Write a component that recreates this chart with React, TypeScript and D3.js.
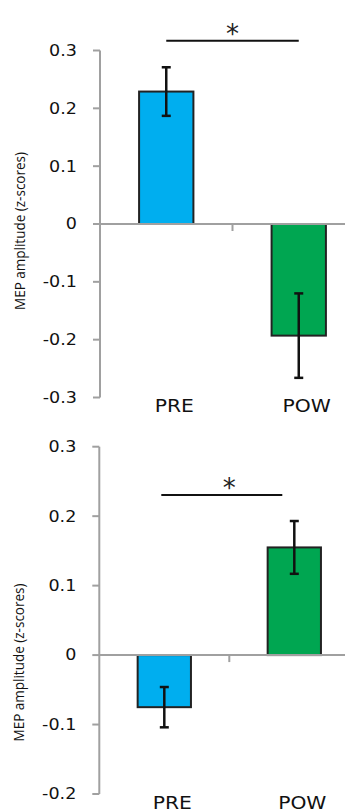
import React from "react";
import * as d3 from "d3";

// data
const categories = ["PRE", "POW"];
const barColors = ["#00AEEF", "#00A651"];

const topMeans = [0.229, -0.193];
const topErrors = [0.042, 0.073];
const topTicks = [0.3, 0.2, 0.1, 0, -0.1, -0.2, -0.3];

const bottomMeans = [-0.075, 0.155];
const bottomErrors = [0.029, 0.038];
const bottomTicks = [0.3, 0.2, 0.1, 0, -0.1, -0.2];

const yTitle = "MEP amplitude (z-scores)";
const sigMark = "*";

const axisGrey = "#a0a0a0";
const numFont = "'DejaVu Sans', Verdana, sans-serif";

function fmt(v: number) {
  return v === 0 ? "0" : v.toFixed(1);
}

type PanelProps = {
  means: number[];
  errors: number[];
  ticks: number[];
  yRange: [number, number];
  xRange: [number, number];
  titleY: number;
  labelY: number;
  sigY: number;
  sigOffsets: [number, number];
};

function Panel(p: PanelProps) {
  const y = d3
    .scaleLinear()
    .domain([d3.min(p.ticks)!, d3.max(p.ticks)!])
    .range(p.yRange);
  const x = d3.scaleBand<string>().domain(categories).range(p.xRange).padding(0);
  const barW = x.bandwidth() * 0.41;
  const axisX = p.xRange[0];
  const y0 = y(0);
  const mid = axisX + x.step();
  const center = (c: string) => x(c)! + x.bandwidth() / 2;

  return (
    <g>
      {/* bars */}
      {categories.map((c, i) => {
        const v = p.means[i];
        return (
          <rect
            key={c}
            x={center(c) - barW / 2}
            y={Math.min(y(v), y0)}
            width={barW}
            height={Math.abs(y(v) - y0)}
            fill={barColors[i]}
            stroke="#222"
            strokeWidth={2}
          />
        );
      })}
      {/* zero line + category tick */}
      <line x1={axisX} x2={p.xRange[1]} y1={y0} y2={y0} stroke={axisGrey} strokeWidth={2} />
      <line x1={mid} x2={mid} y1={y0} y2={y0 + 7} stroke={axisGrey} strokeWidth={2} />
      {/* y axis */}
      <line x1={axisX} x2={axisX} y1={p.yRange[0]} y2={p.yRange[1]} stroke={axisGrey} strokeWidth={2} />
      {p.ticks.map((t) => (
        <g key={t}>
          <line x1={axisX - 7} x2={axisX} y1={y(t)} y2={y(t)} stroke={axisGrey} strokeWidth={2} />
          <text
            transform={`translate(${axisX - 23},${y(t)}) scale(1.17,1)`}
            textAnchor="end"
            dy="0.36em"
            fontFamily={numFont}
            fontSize={15}
            fill="#111"
          >
            {fmt(t)}
          </text>
        </g>
      ))}
      {/* error bars */}
      {categories.map((c, i) => {
        const cx = center(c);
        const hi = y(p.means[i] + p.errors[i]);
        const lo = y(p.means[i] - p.errors[i]);
        return (
          <g key={c} stroke="#111" strokeWidth={2.5}>
            <line x1={cx} x2={cx} y1={hi} y2={lo} />
            <line x1={cx - 4.5} x2={cx + 4.5} y1={hi} y2={hi} />
            <line x1={cx - 4.5} x2={cx + 4.5} y1={lo} y2={lo} />
          </g>
        );
      })}
      {/* category labels */}
      {categories.map((c) => (
        <text
          key={c}
          transform={`translate(${center(c) + 8},${p.labelY}) scale(1.16,1)`}
          textAnchor="middle"
          fontFamily={numFont}
          fontSize={17.5}
          fill="#111"
        >
          {c}
        </text>
      ))}
      {/* y title */}
      <text
        transform={`translate(${axisX - 75},${p.titleY}) rotate(-90)`}
        textAnchor="middle"
        fontFamily="'Open Sans', 'Liberation Sans', sans-serif"
        fontSize={14.5}
        textLength={158}
        lengthAdjust="spacingAndGlyphs"
        fill="#111"
      >
        {yTitle}
      </text>
      {/* significance */}
      <line
        x1={center(categories[0]) + p.sigOffsets[0]}
        x2={center(categories[1]) + p.sigOffsets[1]}
        y1={p.sigY}
        y2={p.sigY}
        stroke="#111"
        strokeWidth={2}
      />
      <text
        x={mid}
        y={p.sigY + 2}
        textAnchor="middle"
        fontFamily={numFont}
        fontSize={26}
        fill="#222"
      >
        {sigMark}
      </text>
    </g>
  );
}

export default function App() {
  return (
    <svg
      width={345}
      height={812}
      style={{ position: "absolute", left: 0, top: 0, background: "#fff" }}
    >
      <Panel
        means={topMeans}
        errors={topErrors}
        ticks={topTicks}
        yRange={[397.5, 50.5]}
        xRange={[100, 365]}
        titleY={231}
        labelY={411.5}
        sigY={40.7}
        sigOffsets={[0, 0]}
      />
      <Panel
        means={bottomMeans}
        errors={bottomErrors}
        ticks={bottomTicks}
        yRange={[794, 446.7]}
        xRange={[99.3, 359.3]}
        titleY={662.5}
        labelY={809.3}
        sigY={495}
        sigOffsets={[-3, -12]}
      />
    </svg>
  );
}
